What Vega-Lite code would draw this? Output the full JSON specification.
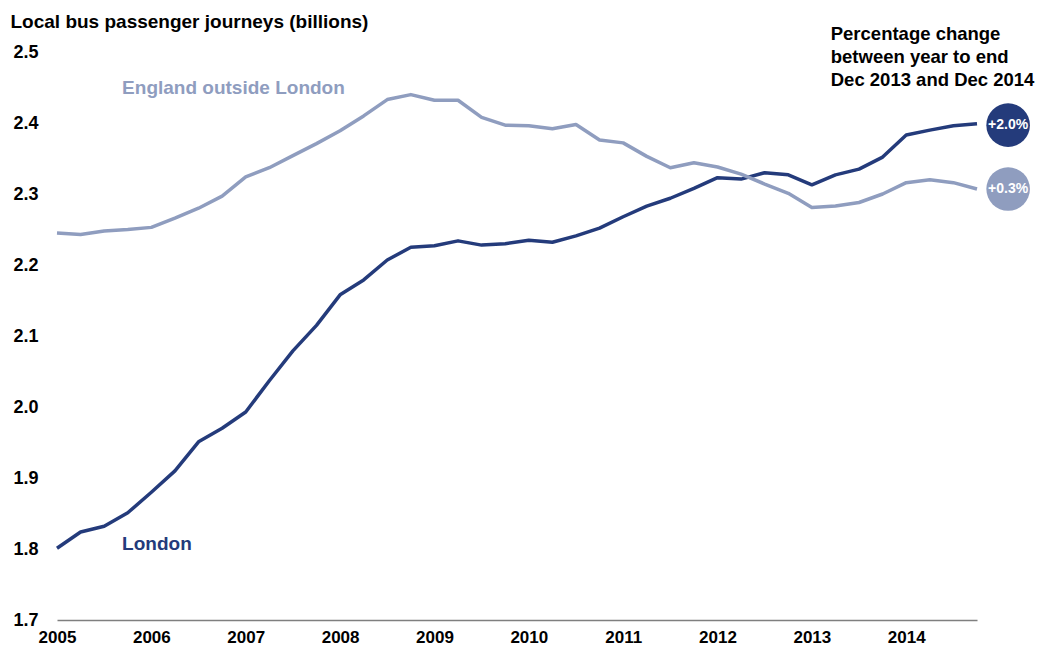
{
  "$schema": "https://vega.github.io/schema/vega-lite/v6.json",
  "autosize": "none",
  "width": 920,
  "height": 568,
  "padding": {"left": 57, "top": 52, "right": 65, "bottom": 30},
  "background": "white",
  "config": {
    "view": {"stroke": null},
    "font": "Liberation Sans",
    "axis": {"labelFont": "Liberation Sans", "titleFont": "Liberation Sans"}
  },
  "datasets": {
    "series": [
      {"series": "London", "t": 2005.00, "value": 1.801},
      {"series": "London", "t": 2005.25, "value": 1.824},
      {"series": "London", "t": 2005.50, "value": 1.832},
      {"series": "London", "t": 2005.75, "value": 1.851},
      {"series": "London", "t": 2006.00, "value": 1.880},
      {"series": "London", "t": 2006.25, "value": 1.910},
      {"series": "London", "t": 2006.50, "value": 1.951},
      {"series": "London", "t": 2006.75, "value": 1.970},
      {"series": "London", "t": 2007.00, "value": 1.993},
      {"series": "London", "t": 2007.25, "value": 2.037},
      {"series": "London", "t": 2007.50, "value": 2.079},
      {"series": "London", "t": 2007.75, "value": 2.115},
      {"series": "London", "t": 2008.00, "value": 2.158},
      {"series": "London", "t": 2008.25, "value": 2.179},
      {"series": "London", "t": 2008.50, "value": 2.207},
      {"series": "London", "t": 2008.75, "value": 2.225},
      {"series": "London", "t": 2009.00, "value": 2.227},
      {"series": "London", "t": 2009.25, "value": 2.234},
      {"series": "London", "t": 2009.50, "value": 2.228},
      {"series": "London", "t": 2009.75, "value": 2.230},
      {"series": "London", "t": 2010.00, "value": 2.235},
      {"series": "London", "t": 2010.25, "value": 2.232},
      {"series": "London", "t": 2010.50, "value": 2.241},
      {"series": "London", "t": 2010.75, "value": 2.252},
      {"series": "London", "t": 2011.00, "value": 2.268},
      {"series": "London", "t": 2011.25, "value": 2.283},
      {"series": "London", "t": 2011.50, "value": 2.294},
      {"series": "London", "t": 2011.75, "value": 2.308},
      {"series": "London", "t": 2012.00, "value": 2.323},
      {"series": "London", "t": 2012.25, "value": 2.321},
      {"series": "London", "t": 2012.50, "value": 2.330},
      {"series": "London", "t": 2012.75, "value": 2.327},
      {"series": "London", "t": 2013.00, "value": 2.313},
      {"series": "London", "t": 2013.25, "value": 2.327},
      {"series": "London", "t": 2013.50, "value": 2.335},
      {"series": "London", "t": 2013.75, "value": 2.352},
      {"series": "London", "t": 2014.00, "value": 2.383},
      {"series": "London", "t": 2014.25, "value": 2.390},
      {"series": "London", "t": 2014.50, "value": 2.396},
      {"series": "London", "t": 2014.75, "value": 2.399},
      {"series": "England outside London", "t": 2005.00, "value": 2.245},
      {"series": "England outside London", "t": 2005.25, "value": 2.243},
      {"series": "England outside London", "t": 2005.50, "value": 2.248},
      {"series": "England outside London", "t": 2005.75, "value": 2.250},
      {"series": "England outside London", "t": 2006.00, "value": 2.253},
      {"series": "England outside London", "t": 2006.25, "value": 2.266},
      {"series": "England outside London", "t": 2006.50, "value": 2.280},
      {"series": "England outside London", "t": 2006.75, "value": 2.297},
      {"series": "England outside London", "t": 2007.00, "value": 2.324},
      {"series": "England outside London", "t": 2007.25, "value": 2.337},
      {"series": "England outside London", "t": 2007.50, "value": 2.354},
      {"series": "England outside London", "t": 2007.75, "value": 2.371},
      {"series": "England outside London", "t": 2008.00, "value": 2.389},
      {"series": "England outside London", "t": 2008.25, "value": 2.410},
      {"series": "England outside London", "t": 2008.50, "value": 2.433},
      {"series": "England outside London", "t": 2008.75, "value": 2.440},
      {"series": "England outside London", "t": 2009.00, "value": 2.432},
      {"series": "England outside London", "t": 2009.25, "value": 2.432},
      {"series": "England outside London", "t": 2009.50, "value": 2.408},
      {"series": "England outside London", "t": 2009.75, "value": 2.397},
      {"series": "England outside London", "t": 2010.00, "value": 2.396},
      {"series": "England outside London", "t": 2010.25, "value": 2.392},
      {"series": "England outside London", "t": 2010.50, "value": 2.398},
      {"series": "England outside London", "t": 2010.75, "value": 2.376},
      {"series": "England outside London", "t": 2011.00, "value": 2.372},
      {"series": "England outside London", "t": 2011.25, "value": 2.353},
      {"series": "England outside London", "t": 2011.50, "value": 2.337},
      {"series": "England outside London", "t": 2011.75, "value": 2.344},
      {"series": "England outside London", "t": 2012.00, "value": 2.338},
      {"series": "England outside London", "t": 2012.25, "value": 2.328},
      {"series": "England outside London", "t": 2012.50, "value": 2.314},
      {"series": "England outside London", "t": 2012.75, "value": 2.301},
      {"series": "England outside London", "t": 2013.00, "value": 2.281},
      {"series": "England outside London", "t": 2013.25, "value": 2.283},
      {"series": "England outside London", "t": 2013.50, "value": 2.288},
      {"series": "England outside London", "t": 2013.75, "value": 2.300},
      {"series": "England outside London", "t": 2014.00, "value": 2.316},
      {"series": "England outside London", "t": 2014.25, "value": 2.320},
      {"series": "England outside London", "t": 2014.50, "value": 2.316},
      {"series": "England outside London", "t": 2014.75, "value": 2.307}
    ],
    "badges": [
      {"series": "London", "t": 2015.08, "value": 2.397, "label": "+2.0%"},
      {"series": "England outside London", "t": 2015.08, "value": 2.307, "label": "+0.3%"}
    ],
    "labels": [
      {"series": "England outside London", "t": 2005.69, "value": 2.449, "label": "England outside London"},
      {"series": "London", "t": 2005.69, "value": 1.807, "label": "London"}
    ],
    "note": [
      {"t": 2013.2, "value": 2.525, "label": "Percentage change\nbetween year to end\nDec 2013 and Dec 2014"}
    ]
  },
  "layer": [
    {
      "data": {"name": "series"},
      "mark": {"type": "line", "strokeWidth": 3.5, "strokeJoin": "round"},
      "encoding": {
        "x": {
          "field": "t", "type": "quantitative",
          "scale": {"domain": [2005, 2014.75], "nice": false, "zero": false},
          "axis": {
            "title": null, "values": [2005, 2006, 2007, 2008, 2009, 2010, 2011, 2012, 2013, 2014],
            "format": "d", "grid": false, "ticks": false, "labelFlush": false,
            "labelFontWeight": "bold", "labelFontSize": 17, "labelColor": "#000000",
            "labelPadding": 9, "domainColor": "#7f7f7f", "domainWidth": 1.5
          }
        },
        "y": {
          "field": "value", "type": "quantitative",
          "scale": {"domain": [1.7, 2.5], "nice": false, "zero": false},
          "axis": {
            "title": "Local bus passenger journeys (billions)",
            "titleAngle": 0, "titleAlign": "left", "titleBaseline": "middle",
            "titleX": -47, "titleY": -31, "titleFontSize": 19, "titleFontWeight": "bold", "titleColor": "#000000",
            "values": [1.7, 1.8, 1.9, 2.0, 2.1, 2.2, 2.3, 2.4, 2.5], "format": ".1f",
            "grid": false, "ticks": false, "domain": false,
            "labelFontWeight": "bold", "labelFontSize": 18, "labelColor": "#000000",
            "labelAlign": "left", "labelPadding": 44
          }
        },
        "color": {
          "field": "series", "type": "nominal",
          "scale": {"domain": ["London", "England outside London"], "range": ["#243b7b", "#8f9dbf"]},
          "legend": null
        },
        "detail": {"field": "series"}
      }
    },
    {
      "data": {"name": "badges"},
      "mark": {"type": "point", "filled": true, "size": 1900, "opacity": 1, "shape": "circle"},
      "encoding": {
        "x": {"field": "t", "type": "quantitative"},
        "y": {"field": "value", "type": "quantitative"},
        "color": {"field": "series", "type": "nominal", "legend": null}
      }
    },
    {
      "data": {"name": "badges"},
      "mark": {"type": "text", "color": "white", "fontWeight": "bold", "fontSize": 14, "align": "center", "baseline": "middle"},
      "encoding": {
        "x": {"field": "t", "type": "quantitative"},
        "y": {"field": "value", "type": "quantitative"},
        "text": {"field": "label"}
      }
    },
    {
      "data": {"name": "labels"},
      "mark": {"type": "text", "fontWeight": "bold", "fontSize": 19, "align": "left", "baseline": "middle"},
      "encoding": {
        "x": {"field": "t", "type": "quantitative"},
        "y": {"field": "value", "type": "quantitative"},
        "text": {"field": "label"},
        "color": {"field": "series", "type": "nominal", "legend": null}
      }
    },
    {
      "data": {"name": "note"},
      "mark": {"type": "text", "fontWeight": "bold", "fontSize": 18.5, "align": "left", "baseline": "middle", "lineBreak": "\n", "lineHeight": 23, "color": "#000000"},
      "encoding": {
        "x": {"field": "t", "type": "quantitative"},
        "y": {"field": "value", "type": "quantitative"},
        "text": {"field": "label"}
      }
    }
  ]
}
